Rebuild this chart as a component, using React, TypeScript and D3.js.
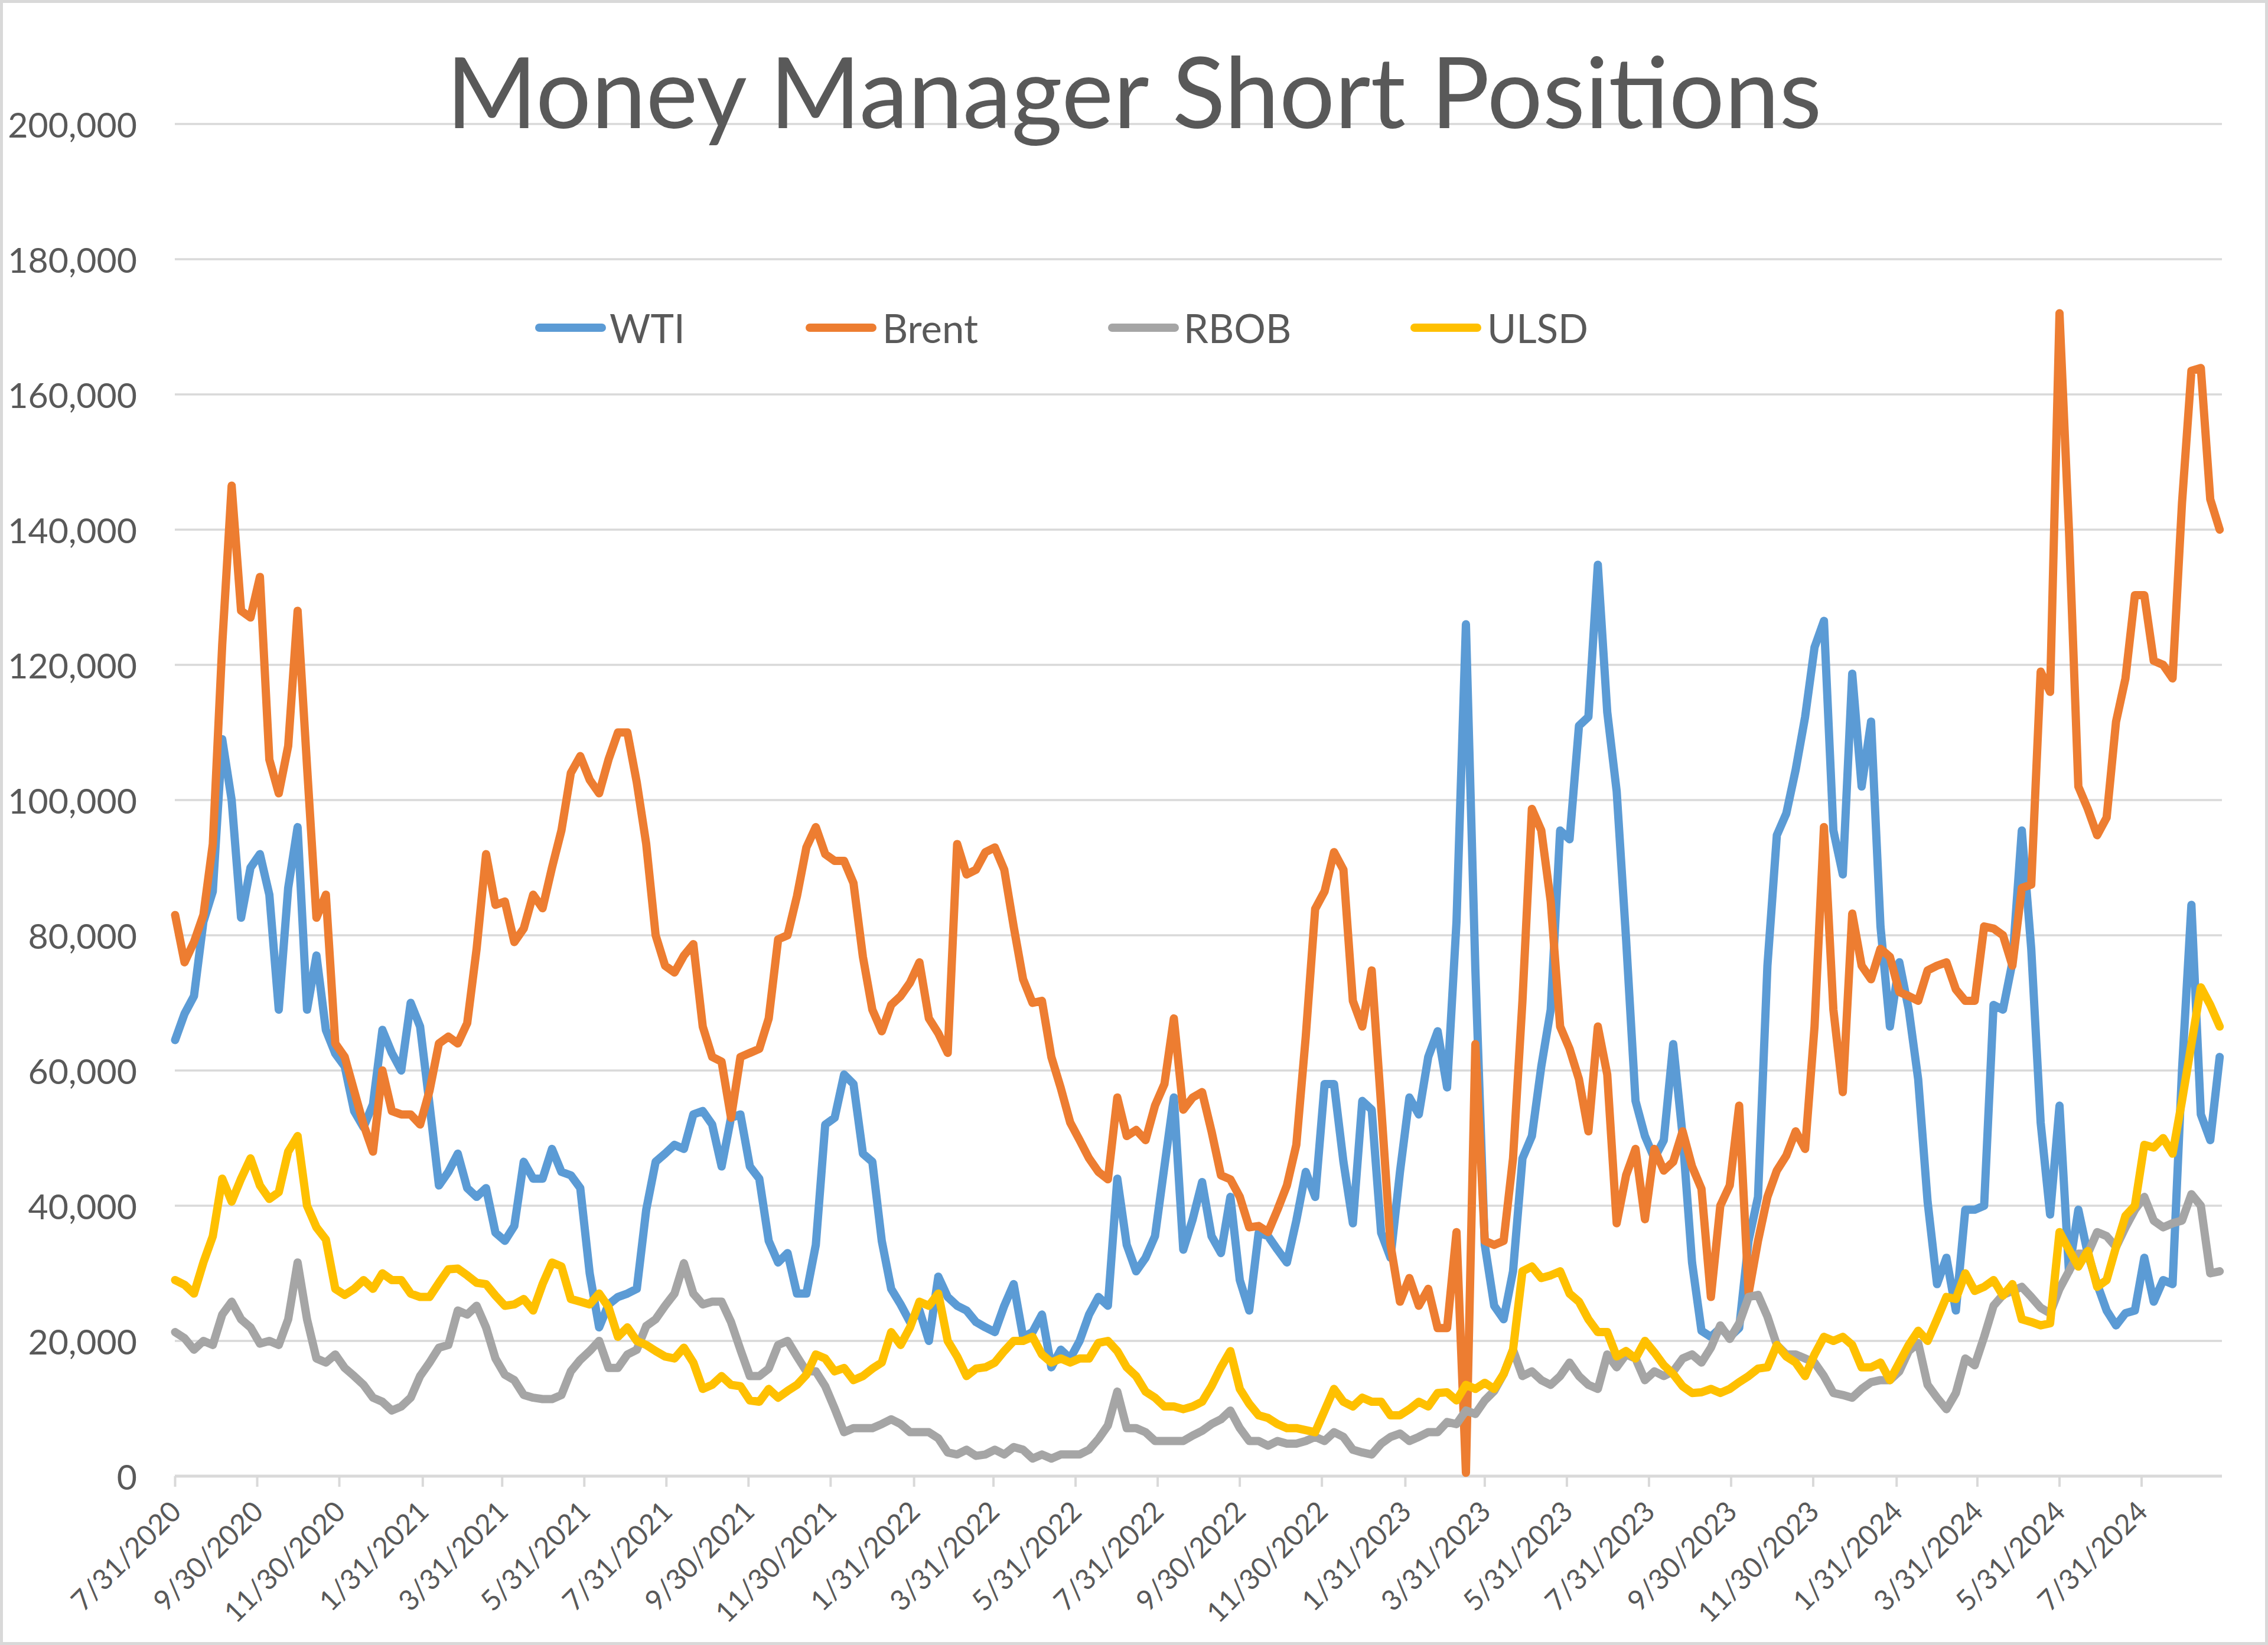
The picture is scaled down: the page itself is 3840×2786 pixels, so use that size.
import React from 'react';
import * as d3 from 'd3';

const W = 3840;
const H = 2786;

const startDate = '7/31/2020';
const weekCount = 218;

// values in thousands of contracts
const wti = [
  64.5, 68.4, 71, 82, 86.5, 109, 100, 82.6, 90, 92,
  86, 69, 87, 96, 69, 77, 66, 62.5, 60.6, 54,
  51.6, 55, 66, 62.6, 60, 70, 66.5, 55, 43, 45,
  47.7, 42.6, 41.3, 42.6, 36, 34.8, 37, 46.5, 44, 44,
  48.4, 45, 44.5, 42.6, 30, 22, 25.4, 26.5, 27, 27.7,
  39.4, 46.5, 47.7, 49, 48.4, 53.5, 54, 52, 45.8, 53,
  53.5, 45.8, 44, 34.8, 31.6, 33, 27, 27, 34.2, 52,
  53, 59.4, 58, 47.7, 46.5, 34.8, 27.7, 25.4, 22.8, 24.5,
  20, 29.5, 26.5, 25.2, 24.5, 22.8, 22, 21.3, 25.2, 28.4,
  20.6, 21.3, 23.9, 16.1, 18.7, 17.4, 20, 23.9, 26.5, 25.2,
  44, 34.2, 30.3, 32.3, 35.5, 45.8, 56, 33.5, 38, 43.5,
  35.5, 33, 41.3, 29, 24.5, 36, 35.5, 33.5, 31.6, 37.8,
  45, 41.3, 58, 58, 46.5, 37.4, 55.5, 54.2, 36, 32.3,
  45, 56, 53.5, 62, 65.8, 57.5, 82, 126, 75, 34.2,
  25.2, 23.2, 30.3, 47, 50.3, 60.6, 69, 95.5, 94.2, 111,
  112.3, 134.8, 113, 101.3, 79.4, 55.5, 50.3, 47, 49.7, 63.9,
  50.3, 31.6, 21.5, 20.6, 21.9, 20.6, 21.9, 34.8, 41.3, 75.5,
  94.8, 98, 104.5, 112.3, 122.6, 126.5, 95.5, 89, 118.7, 102,
  111.6, 81.3, 66.5, 76, 69, 58.7, 40.6, 28.4, 32.3, 24.5,
  39.4, 39.4, 40, 69.7, 69, 76, 95.5, 78, 52.3, 38.7,
  54.8, 30.3, 39.4, 32.9, 28.4, 24.5, 22.3, 24.1, 24.5, 32.3,
  25.8, 29, 28.4, 60, 84.5, 53.5, 49.7, 62,
];

const brent = [
  83, 76, 79, 83, 93.5, 123, 146.5, 128, 127, 133,
  106, 101, 108, 128, 105, 82.6, 86, 64, 62, 57,
  52, 48, 60, 54, 53.5, 53.5, 52, 57, 64, 65,
  64, 67, 78, 92, 84.5, 85, 79, 81, 86, 84,
  90, 95.5, 104, 106.5, 103, 101, 106, 110, 110, 102.6,
  93.5, 80, 75.5, 74.5, 77, 78.7, 66.5, 62, 61.3, 53,
  62, 62.6, 63.2, 67.7, 79.4, 80, 85.8, 93, 96, 92,
  91, 91, 87.7, 76.8, 69, 65.8, 69.7, 71, 73, 76,
  67.7, 65.5, 62.6, 93.5, 89, 89.7, 92.3, 93, 89.7, 81.3,
  73.5, 70, 70.3, 62, 57.4, 52.3, 49.7, 47, 45, 43.9,
  56, 50.3, 51.2, 49.7, 54.8, 58, 67.7, 54.2, 56, 56.8,
  51, 44.5, 43.9, 41.3, 36.8, 37, 36.1, 39.4, 43, 49,
  65, 83.9, 86.5, 92.3, 89.7, 70.3, 66.5, 74.8, 54.8, 34.2,
  25.8, 29.3, 25.2, 27.7, 21.9, 21.9, 36.1, 0.5, 63.9, 34.8,
  34.2, 34.8, 47, 70.3, 98.7, 95.5, 85, 66.5, 63.2, 58.7,
  51, 66.5, 59.4, 37.4, 44.5, 48.4, 38, 48.4, 45.2, 46.5,
  51, 45.8, 42.5, 26.5, 40, 43, 54.8, 27, 34.8, 41.3,
  45.2, 47.4, 51, 48.4, 66.5, 96, 69, 56.8, 83.2, 75.5,
  73.5, 78, 76.8, 71.6, 71, 70.3, 74.8, 75.5, 76, 72,
  70.3, 70.3, 81.3, 81, 80, 75.5, 87, 87.5, 119, 116,
  172, 140, 102, 98.7, 94.8, 97.4, 111.6, 118, 130.3, 130.3,
  120.6, 120, 118, 143.9, 163.5, 163.9, 144.5, 140,
];

const rbob = [
  21.3, 20.4, 18.7, 20, 19.4, 23.9, 25.8, 23.2, 22, 19.6,
  20, 19.4, 23.2, 31.6, 23.2, 17.4, 16.8, 18, 16, 14.8,
  13.5, 11.6, 11, 9.7, 10.3, 11.6, 14.8, 16.8, 19, 19.4,
  24.5, 23.9, 25.2, 22, 17.4, 15, 14.2, 12, 11.6, 11.4,
  11.4, 12, 15.5, 17.2, 18.5, 20, 16, 16, 18, 18.7,
  22.2, 23.2, 25.2, 27, 31.5, 27, 25.4, 25.8, 25.8, 22.8,
  18.7, 14.8, 14.8, 15.9, 19.4, 20, 17.7, 15.5, 15.5, 13.3,
  10, 6.5, 7.1, 7.1, 7.1, 7.7, 8.4, 7.7, 6.5, 6.5,
  6.5, 5.6, 3.5, 3.2, 3.9, 3, 3.2, 3.9, 3.2, 4.3,
  3.9, 2.6, 3.2, 2.6, 3.2, 3.2, 3.2, 3.9, 5.5, 7.5,
  12.5, 7.1, 7.1, 6.5, 5.2, 5.2, 5.2, 5.2, 6, 6.7,
  7.7, 8.4, 9.7, 7.1, 5.2, 5.2, 4.5, 5.2, 4.8, 4.8,
  5.2, 5.8, 5.2, 6.5, 5.8, 3.9, 3.5, 3.2, 4.8, 5.8,
  6.3, 5.2, 5.8, 6.5, 6.5, 8, 7.7, 9.7, 9.2, 11.2,
  12.6, 15.1, 18.7, 14.8, 15.5, 14.2, 13.5, 14.8, 16.8, 14.8,
  13.5, 12.9, 18, 16.1, 18, 17.4, 14.2, 15.5, 14.8, 15.5,
  17.4, 18, 16.8, 19, 22.3, 20.3, 22.6, 26.5, 26.8, 23.6,
  19.4, 18, 18, 17.4, 16.8, 14.8, 12.3, 12, 11.6, 12.9,
  13.9, 14.2, 14.2, 15.5, 18.5, 19.7, 13.5, 11.6, 9.9, 12.3,
  17.4, 16.4, 20.6, 25.2, 26.8, 27.4, 28, 26.5, 24.9, 24.1,
  27.7, 30.3, 32.9, 32.9, 36.1, 35.5, 33.9, 36.8, 39.4, 41.3,
  37.8, 36.8, 37.4, 37.8, 41.7, 40, 30, 30.3,
];

const ulsd = [
  29, 28.3, 27, 31.6, 35.5, 44, 40.6, 44, 47, 43,
  41, 42, 48, 50.3, 40, 36.8, 35, 27.7, 26.8, 27.7,
  29, 27.7, 30, 29, 29, 27, 26.5, 26.5, 28.6, 30.6,
  30.7, 29.7, 28.6, 28.4, 26.7, 25.2, 25.4, 26.2, 24.5, 28.4,
  31.6, 31, 26.2, 25.8, 25.4, 27, 25, 20.6, 22, 20,
  19.4, 18.5, 17.7, 17.4, 19, 16.8, 12.9, 13.5, 14.8, 13.5,
  13.3, 11.2, 11, 12.9, 11.6, 12.6, 13.5, 15, 18, 17.4,
  15.5, 16, 14.2, 14.8, 15.9, 16.8, 21.3, 19.4, 22, 25.8,
  25.2, 27, 20, 17.7, 14.8, 15.9, 16.1, 16.8, 18.5, 20,
  20, 20.6, 18, 16.8, 17.4, 16.8, 17.4, 17.4, 19.7, 20,
  18.5, 16.1, 14.8, 12.5, 11.6, 10.3, 10.3, 9.9, 10.3, 11,
  13.3, 16.1, 18.5, 12.9, 10.7, 9, 8.6, 7.7, 7.1, 7.1,
  6.8, 6.5, 9.7, 12.9, 11, 10.3, 11.6, 11, 11, 9,
  9, 9.9, 11, 10.3, 12.3, 12.4, 11.2, 13.5, 12.9, 13.8,
  12.9, 15.1, 18.7, 30.3, 31, 29.3, 29.7, 30.3, 27, 25.8,
  23.2, 21.3, 21.3, 17.7, 18.5, 17.4, 20, 18.3, 16.4, 15.1,
  13.3, 12.3, 12.4, 12.9, 12.3, 12.9, 13.9, 14.8, 15.9, 16.1,
  19.4, 17.7, 16.8, 14.8, 18, 20.6, 20, 20.6, 19.4, 16.1,
  16.1, 16.8, 14.2, 16.8, 19.4, 21.5, 20, 23.2, 26.5, 26.2,
  30, 27.4, 28, 29, 26.7, 28.4, 23.2, 22.8, 22.3, 22.6,
  36.1, 33.5, 31, 33.3, 28, 29, 33.9, 38.5, 40, 49,
  48.6, 50, 47.7, 55.5, 63.9, 72.3, 69.7, 66.5,
];

const seriesNames = ['WTI', 'Brent', 'RBOB', 'ULSD'];
const seriesColors = ['#5B9BD5', '#ED7D31', '#A5A5A5', '#FFC000'];
const seriesValues = [wti, brent, rbob, ulsd];

const yTicks = [0, 20000, 40000, 60000, 80000, 100000, 120000, 140000, 160000, 180000, 200000];

const xTickLabels = [
  '7/31/2020', '9/30/2020', '11/30/2020', '1/31/2021', '3/31/2021', '5/31/2021',
  '7/31/2021', '9/30/2021', '11/30/2021', '1/31/2022', '3/31/2022', '5/31/2022',
  '7/31/2022', '9/30/2022', '11/30/2022', '1/31/2023', '3/31/2023', '5/31/2023',
  '7/31/2023', '9/30/2023', '11/30/2023', '1/31/2024', '3/31/2024', '5/31/2024',
  '7/31/2024',
];

const title = 'Money Manager Short Positions';

const parse = d3.timeParse('%m/%d/%Y');

export default function App() {
  const start = parse(startDate) as Date;
  const dates = d3.range(weekCount).map((i) => d3.timeDay.offset(start, 7 * i));

  const plotLeft = 296;
  const plotRight = 3762;

  const x = d3
    .scaleTime()
    .domain([parse('7/31/2020') as Date, parse('7/31/2024') as Date])
    .range([296.5, 3626]);
  const y = d3.scaleLinear().domain([0, 200000]).range([2500, 210]);

  const line = d3
    .line<number>()
    .x((_, i) => x(dates[i]))
    .y((d) => y(d * 1000));

  const fmt = d3.format(',');
  const font = "Lato, 'Open Sans', 'Noto Sans', sans-serif";
  const textColor = '#595959';
  const gridColor = '#D9D9D9';

  const legendItems = [
    { lineX: 906, textX: 1032 },
    { lineX: 1364, textX: 1494 },
    { lineX: 1876, textX: 2004 },
    { lineX: 2388, textX: 2518 },
  ];
  const legendY = 555;

  return (
    <div style={{ position: 'absolute', left: 0, top: 0 }}>
      <svg width={W} height={H} style={{ display: 'block' }} fontFamily={font}>
        <rect x={0} y={0} width={W} height={H} fill="#ffffff" />
        <rect x={2.5} y={2.5} width={W - 5} height={H - 5} fill="none" stroke={gridColor} strokeWidth={5} />

        {yTicks
          .filter((v) => v > 0)
          .map((v) => (
            <line key={v} x1={plotLeft} x2={plotRight} y1={y(v)} y2={y(v)} stroke={gridColor} strokeWidth={3.5} />
          ))}

        <line x1={plotLeft} x2={plotRight} y1={y(0)} y2={y(0)} stroke={gridColor} strokeWidth={5} />
        {xTickLabels.map((t) => {
          const xx = x(parse(t) as Date);
          return <line key={'t' + t} x1={xx} x2={xx} y1={y(0)} y2={y(0) + 18} stroke={gridColor} strokeWidth={4} />;
        })}

        {yTicks.map((v) => (
          <text
            key={'yl' + v}
            x={232}
            y={y(v)}
            textAnchor="end"
            dominantBaseline="central"
            fontSize={59}
            fill={textColor}
          >
            {fmt(v)}
          </text>
        ))}

        {xTickLabels.map((t) => {
          const xx = x(parse(t) as Date);
          return (
            <text
              key={'xl' + t}
              transform={`translate(${xx},${2550}) rotate(-45)`}
              textAnchor="end"
              dominantBaseline="central"
              fontSize={48}
              fill={textColor}
            >
              {t}
            </text>
          );
        })}

        <text x={1920} y={217} textAnchor="middle" fontSize={166} fontWeight={400} fill={textColor}>
          {title}
        </text>

        {seriesValues.map((vals, si) => (
          <path
            key={seriesNames[si]}
            d={line(vals) || ''}
            fill="none"
            stroke={seriesColors[si]}
            strokeWidth={14}
            strokeLinejoin="round"
            strokeLinecap="round"
          />
        ))}

        {seriesNames.map((name, si) => (
          <g key={'lg' + name}>
            <line
              x1={legendItems[si].lineX + 7}
              x2={legendItems[si].lineX + 113}
              y1={legendY}
              y2={legendY}
              stroke={seriesColors[si]}
              strokeWidth={14}
              strokeLinecap="round"
            />
            <text
              x={legendItems[si].textX}
              y={legendY}
              dominantBaseline="central"
              fontSize={67}
              fill={textColor}
            >
              {name}
            </text>
          </g>
        ))}
      </svg>
    </div>
  );
}
